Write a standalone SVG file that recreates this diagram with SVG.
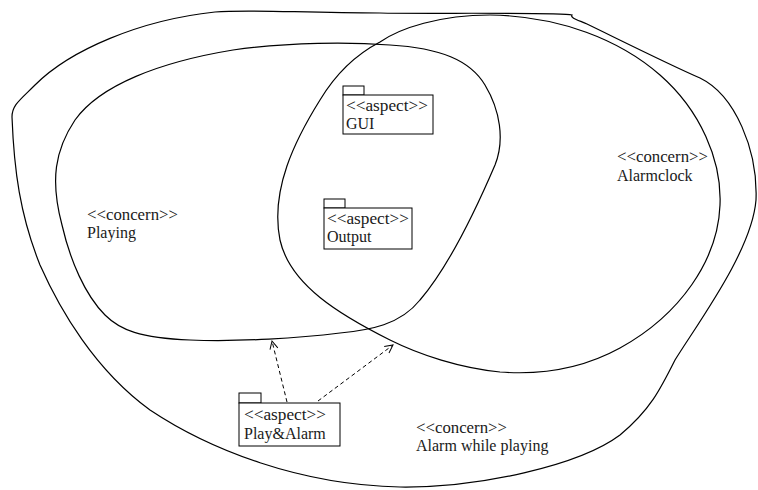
<svg xmlns="http://www.w3.org/2000/svg" width="758" height="490" viewBox="0 0 758 490">
  <defs>
    <style>
      .region { fill: none; stroke: #000; stroke-width: 1.2; }
      .box { fill: #fff; stroke: #000; stroke-width: 1; }
      .lbl { font-family: "Liberation Serif", "Times New Roman", serif; font-size: 16px; fill: #1a1a1a; }
      .dep { fill: none; stroke: #000; stroke-width: 1; stroke-dasharray: 4 3; }
    </style>
    <marker id="open" markerWidth="12" markerHeight="12" refX="9" refY="5" orient="auto" markerUnits="userSpaceOnUse">
      <path d="M1,1 L9,5 L1,9" fill="none" stroke="#000" stroke-width="1"/>
    </marker>
  </defs>
  <rect width="758" height="490" fill="#fff"/>

  <!-- concern: Alarm while playing (outer region) -->
  <g id="concern-alarm-while-playing">
    <path class="region" d="M 12,117 C 14,170 20,215 40,265 C 60,310 95,370 150,410 C 210,450 300,485 400,487 C 480,488 580,465 620,435 C 650,410 660,390 675,360 C 700,320 752,250 756,200 C 758,150 735,95 700,78 C 670,65 620,40 587,24 C 578,20 570,18 572,15 C 560,12 420,14 380,13 C 300,13 250,9 215,12 C 140,20 70,50 35,85 C 20,100 12,105 12,117 Z"/>
    <text class="lbl" x="416" y="433" textLength="91" lengthAdjust="spacingAndGlyphs">&lt;&lt;concern&gt;&gt;</text>
    <text class="lbl" x="416" y="451">Alarm while playing</text>
  </g>

  <!-- concern: Playing -->
  <g id="concern-playing">
    <path class="region" d="M 233,50 C 290,42 350,42 390,45 C 440,48 470,60 485,85 C 500,110 505,140 495,165 C 480,200 450,265 420,300 C 400,325 370,330 340,333 C 300,338 240,342 190,340 C 140,338 120,330 105,315 C 85,295 70,260 62,225 C 50,180 55,150 75,120 C 100,85 160,62 233,50 Z"/>
    <text class="lbl" x="87" y="220" textLength="91" lengthAdjust="spacingAndGlyphs">&lt;&lt;concern&gt;&gt;</text>
    <text class="lbl" x="87" y="238">Playing</text>
  </g>

  <!-- concern: Alarmclock -->
  <g id="concern-alarmclock">
    <path class="region" d="M 380,42 C 400,28 440,15 490,15 C 560,16 620,40 660,75 C 700,110 722,160 720,205 C 718,260 680,315 620,348 C 580,370 540,375 500,372 C 460,368 420,355 390,340 C 340,315 290,285 280,240 C 270,190 295,140 320,100 C 335,75 355,55 380,42 Z"/>
    <text class="lbl" x="617" y="162" textLength="91" lengthAdjust="spacingAndGlyphs">&lt;&lt;concern&gt;&gt;</text>
    <text class="lbl" x="617" y="181">Alarmclock</text>
  </g>

  <!-- aspect: GUI -->
  <g id="aspect-gui">
    <rect class="box" x="343" y="86" width="21" height="9"/>
    <rect class="box" x="343" y="95" width="90" height="39"/>
    <text class="lbl" x="346" y="111" textLength="82" lengthAdjust="spacingAndGlyphs">&lt;&lt;aspect&gt;&gt;</text>
    <text class="lbl" x="346" y="129">GUI</text>
  </g>

  <!-- aspect: Output -->
  <g id="aspect-output">
    <rect class="box" x="324" y="199" width="21" height="9"/>
    <rect class="box" x="324" y="208" width="88" height="41"/>
    <text class="lbl" x="327" y="224" textLength="82" lengthAdjust="spacingAndGlyphs">&lt;&lt;aspect&gt;&gt;</text>
    <text class="lbl" x="327" y="242">Output</text>
  </g>

  <!-- aspect: Play&Alarm -->
  <g id="aspect-play-alarm">
    <rect class="box" x="239" y="393" width="22" height="10"/>
    <rect class="box" x="239" y="403" width="101" height="43"/>
    <text class="lbl" x="244" y="420" textLength="82" lengthAdjust="spacingAndGlyphs">&lt;&lt;aspect&gt;&gt;</text>
    <text class="lbl" x="244" y="439">Play&amp;Alarm</text>
  </g>

  <!-- dependencies -->
  <g id="connectors">
    <line class="dep" x1="287" y1="402" x2="272" y2="341" marker-end="url(#open)"/>
    <line class="dep" x1="318" y1="401" x2="393" y2="345" marker-end="url(#open)"/>
  </g>
</svg>
